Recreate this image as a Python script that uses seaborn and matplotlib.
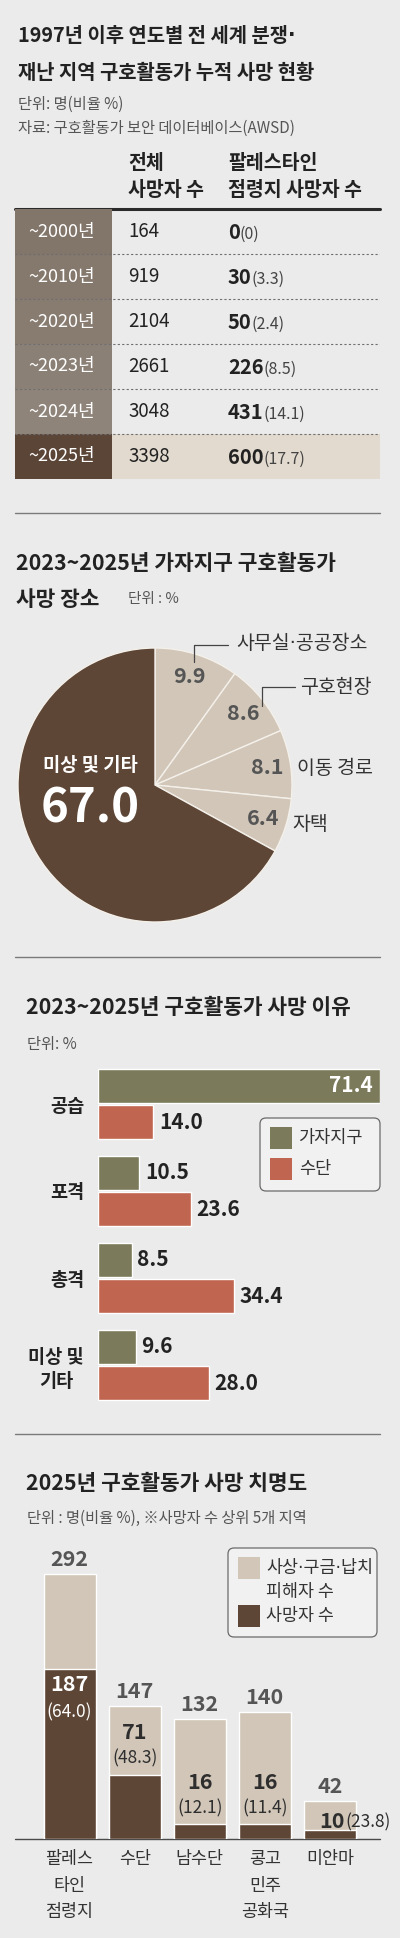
import numpy as np
import pandas as pd
import seaborn as sns
import matplotlib.pyplot as plt
from matplotlib.patches import Rectangle, FancyBboxPatch

# 표: 누적 사망 현황
periods = ["~2000년", "~2010년", "~2020년", "~2023년", "~2024년", "~2025년"]
total_deaths = [164, 919, 2104, 2661, 3048, 3398]
pal_deaths = [0, 30, 50, 226, 431, 600]
pal_share = ["0", "3.3", "2.4", "8.5", "14.1", "17.7"]

# 가자지구 사망 장소 (%)
place_labels = ["사무실·공공장소", "구호현장", "이동 경로", "자택", "미상 및 기타"]
place_share = [9.9, 8.6, 8.1, 6.4, 67.0]

# 사망 이유 (%)
causes = ["공습", "포격", "총격", "미상 및\n기타"]
gaza_share = [71.4, 10.5, 8.5, 9.6]
sudan_share = [14.0, 23.6, 34.4, 28.0]
cause_regions = ["가자지구", "수단"]

# 2025년 치명도
regions = ["팔레스\n타인\n점령지", "수단", "남수단", "콩고\n민주\n공화국", "미얀마"]
victims = [292, 147, 132, 140, 42]
deaths = [187, 71, 16, 16, 10]
death_rate = ["64.0", "48.3", "12.1", "11.4", "23.8"]

W, H = 400, 1938
BG = "#ebebeb"
LIGHT = "#d1c6b8"
DARK = "#5e4636"
GREEN = "#7b7a5b"
RED = "#c0654f"
INK = "#222222"
GRAY = "#555555"

sns.set_theme(style="white")
plt.rcParams['font.family'] = ['Noto Sans CJK KR', 'DejaVu Sans']
# 가운뎃점(·)을 좁게 쓰려고 DejaVu 먼저
DOT_FONT = ['DejaVu Sans', 'Noto Sans CJK KR']


def box(x0, y0, x1, y1):
    # 픽셀 좌표(위쪽 원점) -> figure 비율
    return [x0 / W, 1 - y1 / H, (x1 - x0) / W, (y1 - y0) / H]


fig = plt.figure(figsize=(W / 100, H / 100), dpi=100)
fig.patch.set_facecolor(BG)

bg = fig.add_axes([0, 0, 1, 1])
bg.set_xlim(0, W)
bg.set_ylim(H, 0)
bg.axis('off')

# ---------------- 1. 표 ----------------
t1 = bg.text(18, 35, "1997년 이후 연도별 전 세계 분쟁", fontsize=14.3, fontweight='bold', color=INK, va='center')
bg.annotate("·", xy=(1, 35), xycoords=(t1, 'data'), fontsize=14.3, fontweight='bold', color=INK,
            va='center', family=DOT_FONT)
bg.text(18, 72, "재난 지역 구호활동가 누적 사망 현황", fontsize=14.3, fontweight='bold', color=INK, va='center')
bg.text(18, 104, "단위: 명(비율 %)", fontsize=11, color=GRAY, va='center')
bg.text(18, 128, "자료: 구호활동가 보안 데이터베이스(AWSD)", fontsize=11, color=GRAY, va='center')
bg.text(128, 163, "전체", fontsize=14, fontweight='bold', color=INK, va='center')
bg.text(128, 190, "사망자 수", fontsize=14, fontweight='bold', color=INK, va='center')
bg.text(228, 163, "팔레스타인", fontsize=14, fontweight='bold', color=INK, va='center')
bg.text(228, 190, "점령지 사망자 수", fontsize=14, fontweight='bold', color=INK, va='center')

label_colors = ["#82756a", "#85786d", "#887c71", "#8b8075", "#8f847a", "#5b4537"]
tab = fig.add_axes(box(15, 209, 380, 479))
tab.set_xlim(15, 380)
tab.set_ylim(len(periods), 0)
tab.axis('off')
for i, p in enumerate(periods):
    last = i == len(periods) - 1
    tab.add_patch(Rectangle((15, i), 97, 1, color=label_colors[i], lw=0))
    if last:
        tab.add_patch(Rectangle((112, i), 268, 1, color="#e2dace", lw=0))
    tab.text(62, i + 0.5, p, color='white', ha='center', va='center', fontsize=13)
    tab.text(128, i + 0.5, f"{total_deaths[i]}", color=INK, va='center', fontsize=13.5)
    t = tab.text(228, i + 0.66, str(pal_deaths[i]), color=INK, va='baseline',
                 fontsize=14.5, fontweight='bold')
    tab.annotate(f"({pal_share[i]})", xy=(1, i + 0.66), xycoords=(t, 'data'),
                 va='baseline', fontsize=11.5, color="#444444")
    if not last:
        tab.plot([15, 380], [i + 1, i + 1], ls=(0, (2, 2)), color="#6f6f6f", lw=0.8)
bg.plot([15, 380], [209, 209], color="#2a2a2a", lw=2.2)

# 구분선
for y in [513, 957, 1434]:
    bg.plot([15, 380], [y, y], color="#7a7a7a", lw=1)

# ---------------- 2. 파이 ----------------
bg.text(16, 563, "2023~2025년 가자지구 구호활동가", fontsize=15.4, fontweight='bold', color=INK, va='center')
bg.text(16, 600, "사망 장소", fontsize=15.4, fontweight='bold', color=INK, va='center')
bg.text(128, 599, "단위 : %", fontsize=10.5, color=GRAY, va='center')

pie_ax = fig.add_axes(box(18, 648, 292, 922))
wedges, _ = pie_ax.pie(place_share, colors=[LIGHT] * 4 + [DARK], startangle=90,
                       counterclock=False,
                       wedgeprops=dict(edgecolor="#f4f0ea", linewidth=1))
pie_ax.set_xlim(-1, 1)
pie_ax.set_ylim(-1, 1)

for w, v in zip(wedges[:4], place_share[:4]):
    ang = np.deg2rad((w.theta1 + w.theta2) / 2)
    pie_ax.text(0.83 * np.cos(ang), 0.83 * np.sin(ang), f"{v:.1f}", ha='center', va='center',
                fontsize=15.5, fontweight='bold', color=GRAY)

# 바깥 설명
pie_ax.plot([0.285, 0.285, 0.53], [0.90, 1.02, 1.02], color="#444444", lw=0.9, clip_on=False)
pie_ax.text(0.59, 1.03, place_labels[0], fontsize=14, color="#333333", va='center', family=DOT_FONT)
pie_ax.plot([0.78, 0.78, 1.02], [0.58, 0.715, 0.715], color="#444444", lw=0.9, clip_on=False)
pie_ax.text(1.06, 0.71, place_labels[1], fontsize=14, color="#333333", va='center')
pie_ax.text(1.04, 0.12, place_labels[2], fontsize=14, color="#333333", va='center')
pie_ax.text(1.00, -0.29, place_labels[3], fontsize=14, color="#333333", va='center')
pie_ax.text(-0.47, 0.145, place_labels[4], fontsize=13.5, fontweight='bold', color='white',
            ha='center', va='center')
pie_ax.text(-0.47, -0.17, f"{place_share[4]:.1f}", fontsize=34, fontweight='bold', color='white',
            ha='center', va='center')

# ---------------- 3. 사망 이유 ----------------
bg.text(26, 1007, "2023~2025년 구호활동가 사망 이유", fontsize=15.4, fontweight='bold', color=INK, va='center')
bg.text(27, 1045, "단위: %", fontsize=11, color=GRAY, va='center')

df = pd.DataFrame({
    "cause": causes * 2,
    "region": [cause_regions[0]] * 4 + [cause_regions[1]] * 4,
    "share": gaza_share + sudan_share,
})
bar_ax = fig.add_axes(box(98, 1060.5, 380, 1408.5))
bar_ax.set_facecolor('none')
sns.barplot(data=df, x="share", y="cause", hue="region", palette=[GREEN, RED], orient='h',
            width=0.85, gap=0.08, saturation=1, legend=False, ax=bar_ax)
bar_ax.set_xlim(0, max(gaza_share))
bar_ax.set_ylim(3.5, -0.5)
sns.despine(ax=bar_ax, left=True, bottom=True)
bar_ax.set_xticks([])
bar_ax.set_xlabel("")
bar_ax.set_ylabel("")
bar_ax.tick_params(axis='y', length=0, pad=10)
for lab in bar_ax.get_yticklabels():
    lab.set_fontsize(13.4)
    lab.set_fontweight('bold')
    lab.set_color(INK)
    lab.set_multialignment('center')
    lab.set_linespacing(1.35)

top = max(gaza_share)
for cont, vals in zip(bar_ax.containers, [gaza_share, sudan_share]):
    labels = ["" if v == top else f"{v:.1f}" for v in vals]
    bar_ax.bar_label(cont, labels=labels, padding=4, fontsize=15, fontweight='bold', color=INK)
    for p, v in zip(cont.patches, vals):
        if v == top:
            bar_ax.annotate(f"{v:.1f}", xy=(v, p.get_y() + p.get_height() / 2), xytext=(-5, 0),
                            textcoords='offset points', ha='right', va='center',
                            fontsize=15, fontweight='bold', color='white')

# 범례
bg.add_patch(FancyBboxPatch((260, 1118), 120, 73, boxstyle="round,pad=0,rounding_size=6",
                            facecolor="#f1f1f1", edgecolor="#6a6a6a", lw=0.9))
for j, (name, c) in enumerate(zip(cause_regions, [GREEN, RED])):
    y0 = 1127 + j * 31
    bg.add_patch(Rectangle((270, y0), 22, 22, color=c, lw=0))
    bg.text(299, y0 + 11, name, fontsize=12.6, color="#333333", va='center')

# ---------------- 4. 치명도 ----------------
bg.text(26, 1483, "2025년 구호활동가 사망 치명도", fontsize=15.4, fontweight='bold', color=INK, va='center')
bg.text(27, 1518, "단위 : 명(비율 %), ※사망자 수 상위 5개 지역", fontsize=11, color=GRAY, va='center')

st_ax = fig.add_axes(box(37, 1567, 362.5, 1839))
st_ax.set_facecolor('none')
sns.barplot(x=regions, y=victims, color=LIGHT, width=0.8, saturation=1, ax=st_ax)
sns.barplot(x=regions, y=deaths, color=DARK, width=0.8, saturation=1, ax=st_ax)
st_ax.set_xlim(-0.5, len(regions) - 0.5)
st_ax.set_ylim(0, 300)
sns.despine(ax=st_ax, left=True, bottom=True)
st_ax.set_yticks([])
st_ax.tick_params(axis='x', length=0, pad=8)
for lab in st_ax.get_xticklabels():
    lab.set_fontsize(12.5)
    lab.set_color("#333333")
    lab.set_linespacing(1.62)
    lab.set_va('top')

st_ax.bar_label(st_ax.containers[0], labels=[str(v) for v in victims], padding=3,
                fontsize=15.5, fontweight='bold', color=GRAY)

PT = 0.72  # px -> pt
for i, (d, r) in enumerate(zip(deaths, death_rate)):
    if i == 0:
        st_ax.annotate(str(d), xy=(i, d), xytext=(0, -15 * PT), textcoords='offset points',
                       ha='center', va='center', fontsize=15.5, fontweight='bold', color='white')
        st_ax.annotate(f"({r})", xy=(i, d), xytext=(0, -43 * PT), textcoords='offset points',
                       ha='center', va='center', fontsize=12.5, color='white')
    elif i == len(deaths) - 1:
        t = st_ax.annotate(str(d), xy=(i - 0.16, d), xytext=(0, 2 * PT), textcoords='offset points',
                           ha='left', va='baseline', fontsize=15.5, fontweight='bold', color="#2e2e2e")
        st_ax.annotate(f"({r})", xy=(1, d), xycoords=(t, 'data'), xytext=(0, 2 * PT),
                       textcoords='offset points', ha='left', va='baseline',
                       fontsize=12.5, color="#2e2e2e")
    else:
        st_ax.annotate(str(d), xy=(i, d), xytext=(0, 42 * PT), textcoords='offset points',
                       ha='center', va='center', fontsize=15.5, fontweight='bold', color="#2e2e2e")
        st_ax.annotate(f"({r})", xy=(i, d), xytext=(0, 16 * PT), textcoords='offset points',
                       ha='center', va='center', fontsize=12.5, color="#2e2e2e")

bg.plot([15, 380], [1839, 1839], color="#4a4a4a", lw=1)

# 범례
bg.add_patch(FancyBboxPatch((228, 1548), 149, 89, boxstyle="round,pad=0,rounding_size=6",
                            facecolor="#f1f1f1", edgecolor="#6a6a6a", lw=0.9))
bg.add_patch(Rectangle((238, 1557), 22, 22, color=LIGHT, lw=0))
bg.text(266, 1568, "사상·구금·납치", fontsize=12.5, color="#333333", va='center', family=DOT_FONT)
bg.text(266, 1592, "피해자 수", fontsize=12.5, color="#333333", va='center')
bg.add_patch(Rectangle((238, 1605), 22, 22, color=DARK, lw=0))
bg.text(266, 1616, "사망자 수", fontsize=12.5, color="#333333", va='center')

fig.savefig("out.png", dpi=100, facecolor=BG)
